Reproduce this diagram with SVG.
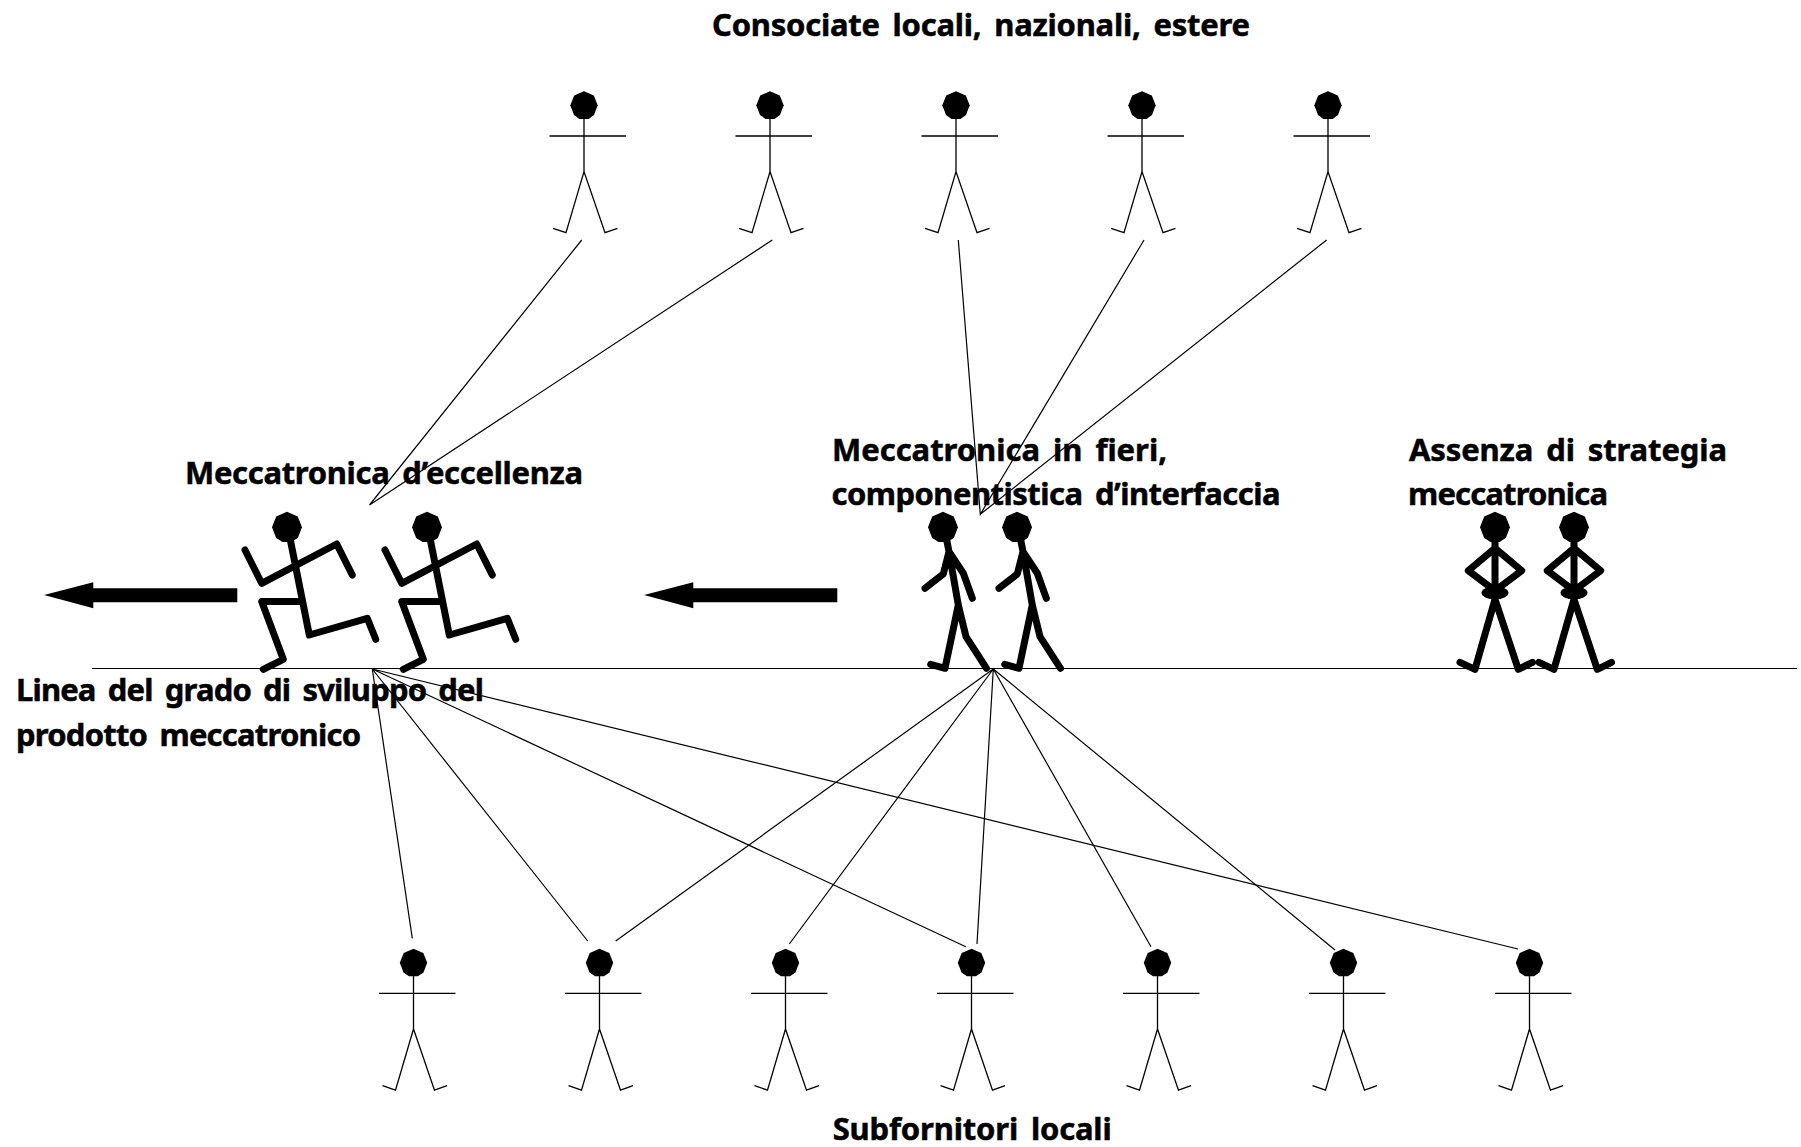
<svg xmlns="http://www.w3.org/2000/svg" xmlns:xlink="http://www.w3.org/1999/xlink" width="1801" height="1147" viewBox="0 0 1801 1147">
  <style>
    .label { font-family: "Noto Sans", "Liberation Sans", sans-serif; font-weight: 700; font-size: 31px; word-spacing: 5px; fill: #000; stroke: #000; stroke-width: 0.5; }
    .thin { fill: none; stroke: #000; stroke-width: 1.3; }
    .bold { fill: none; stroke: #000; stroke-width: 7; stroke-linecap: round; stroke-linejoin: round; }
    .link { stroke: #000; stroke-width: 1.2; fill: none; }
  </style>
  <defs>
    <polygon id="head-small" fill="#000" points="0,-14 9.8,-9.8 13.7,0 10,9.8 4.5,13.6 -4.5,13.6 -10,9.8 -13.7,0 -9.8,-9.8"/>
    <polygon id="head-big" fill="#000" points="0,-15.5 10.8,-10.8 15,0 10.8,10.8 4.5,14.8 -4.5,14.8 -10.8,10.8 -15,0 -10.8,-10.8"/>
    <!-- Thin standing figure, origin at head centre -->
    <g id="standing">
      <use xlink:href="#head-small"/>
      <path class="thin" d="M0,13V66.3M-34.5,30.7H42M-31,123L-18,127.4L0,66.3L21,127.4L33.5,123"/>
    </g>
    <!-- Running figure -->
    <g id="runner">
      <use xlink:href="#head-big"/>
      <path class="bold" d="M3,11L22.3,107.7L80.3,91L88.7,112M-42,22.7L-25.3,56L49.7,16.7L65.3,47.7M14.7,74.3H-25.3L-3.7,132L-23.7,142"/>
    </g>
    <!-- Walking figure -->
    <g id="walker">
      <use xlink:href="#head-big"/>
      <path class="bold" d="M3.7,12.7L6,24.3L15.3,77.7L23,109.3L43.5,141M6,24.3L0.3,46.7L-18,61M6,24.3L20.3,46L29.3,71M15.3,77.7L2,141L-12.3,137"/>
    </g>
    <!-- Figure standing with hands on hips -->
    <g id="idle">
      <use xlink:href="#head-big"/>
      <ellipse cx="0" cy="65.5" rx="13.5" ry="6.5" fill="#000"/>
      <path class="bold" d="M0,13V66M-2,62L-26.7,43.3L0,21L26.7,43.3L2,62M0,72L-20,142L-35,135M0,72L23.3,142L37.5,135"/>
    </g>
    <polygon id="arrow" fill="#000" points="0,13 49.3,0.3 49.3,6.3 193.3,6.3 193.3,20.3 49.3,20.3 49.3,26.3"/>
  </defs>

  <rect width="1801" height="1147" fill="#fff"/>

  <!-- Development line -->
  <g id="baseline">
    <line class="link" x1="92" y1="668.5" x2="1797" y2="668.5"/>
  </g>

  <g id="connectors">
    <path class="link" d="M581.7,240L369.5,505L772.3,240"/>
    <path class="link" d="M958.3,240L980.3,514.3L1144,240M980.3,514.3L1326.6,240"/>
    <path class="link" d="M372.3,669L412.3,938.3M372.3,669L587.7,941M372.3,669L965.8,946.7M372.3,669L1518,949"/>
    <path class="link" d="M993.3,669L615.7,941M993.3,669L789.3,944M993.3,669L977,944M993.3,669L1151,946.7M993.3,669L1335,950"/>
  </g>

  <g id="top-1"><use xlink:href="#standing" x="584" y="105.3"/></g>
  <g id="top-2"><use xlink:href="#standing" x="770" y="105.3"/></g>
  <g id="top-3"><use xlink:href="#standing" x="956" y="105.3"/></g>
  <g id="top-4"><use xlink:href="#standing" x="1142" y="105.3"/></g>
  <g id="top-5"><use xlink:href="#standing" x="1328" y="105.3"/></g>

  <g id="runner-1"><use xlink:href="#runner" x="287" y="527.3"/></g>
  <g id="runner-2"><use xlink:href="#runner" x="427" y="527.3"/></g>
  <g id="walker-1"><use xlink:href="#walker" x="943" y="527.3"/></g>
  <g id="walker-2"><use xlink:href="#walker" x="1017" y="527.3"/></g>
  <g id="idle-1"><use xlink:href="#idle" x="1495" y="527.3"/></g>
  <g id="idle-2"><use xlink:href="#idle" x="1574" y="527.3"/></g>

  <g id="arrow-left"><use xlink:href="#arrow" x="44" y="582"/></g>
  <g id="arrow-middle"><use xlink:href="#arrow" x="644" y="582"/></g>

  <g id="bottom-1"><use xlink:href="#standing" x="413.5" y="962.7"/></g>
  <g id="bottom-2"><use xlink:href="#standing" x="599.5" y="962.7"/></g>
  <g id="bottom-3"><use xlink:href="#standing" x="785.5" y="962.7"/></g>
  <g id="bottom-4"><use xlink:href="#standing" x="971.5" y="962.7"/></g>
  <g id="bottom-5"><use xlink:href="#standing" x="1157.5" y="962.7"/></g>
  <g id="bottom-6"><use xlink:href="#standing" x="1343.5" y="962.7"/></g>
  <g id="bottom-7"><use xlink:href="#standing" x="1529.5" y="962.7"/></g>

  <g id="labels">
    <text class="label" x="712" y="36" textLength="538">Consociate locali, nazionali, estere</text>
    <text class="label" x="185" y="484" textLength="398">Meccatronica d’eccellenza</text>
    <text class="label" x="832" y="460.7" textLength="335">Meccatronica in fieri,</text>
    <text class="label" x="831.5" y="505" textLength="449">componentistica d’interfaccia</text>
    <text class="label" x="1409" y="460.7" textLength="318">Assenza di strategia</text>
    <text class="label" x="1408" y="505" textLength="200">meccatronica</text>
    <text class="label" x="16" y="700.7" textLength="468">Linea del grado di sviluppo del</text>
    <text class="label" x="16" y="745.5" textLength="345">prodotto meccatronico</text>
    <text class="label" x="832.7" y="1140" textLength="279">Subfornitori locali</text>
  </g>
</svg>
